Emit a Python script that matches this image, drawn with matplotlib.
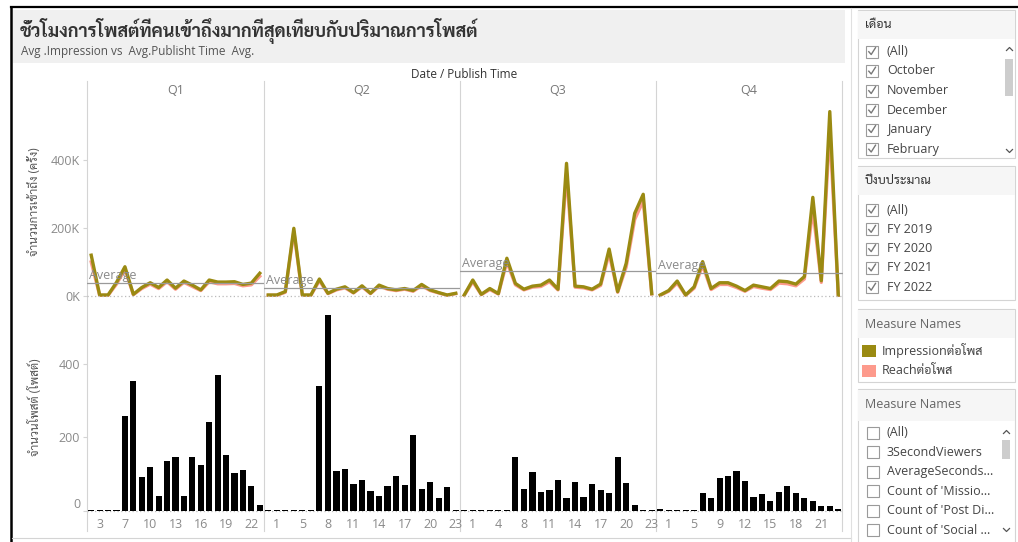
import numpy as np
import matplotlib
matplotlib.use("Agg")
import matplotlib.pyplot as plt
from matplotlib import font_manager
from matplotlib.patches import Rectangle
from matplotlib.transforms import blended_transform_factory

# ---- fonts: latin first, then a font that has Thai glyphs
available = {f.name for f in font_manager.fontManager.ttflist}
thai_font = next((f for f in ["Sarabun", "Noto Sans Thai Looped", "Noto Sans Thai", "Anuphan"]
                  if f in available), "DejaVu Sans")
plt.rcParams["font.family"] = ["Open Sans", thai_font, "DejaVu Sans"]

# ---- data (impression / reach in thousands, posts = count)
quarters = ["Q1", "Q2", "Q3", "Q4"]

q1_hours = [2, 3, 5, 6, 7, 8, 9, 10, 11, 12, 13, 14, 15, 16, 17, 18, 19, 20, 21, 22, 23]
q1_impr = [120, 3, 3, 40, 86, 5, 25, 39, 25, 47, 23, 44, 32, 18, 47, 41, 41, 42, 34, 38, 67]
q1_reach = [100, 2, 2, 35, 78, 4, 22, 35, 22, 42, 20, 40, 28, 16, 42, 36, 36, 37, 30, 33, 58]
q1_posts = [3, 1, 1, 3, 256, 352, 91, 120, 41, 136, 147, 41, 147, 123, 240, 368, 151, 103, 111, 66, 15]

q2_hours = [0, 1, 2, 3, 5, 6, 7, 8, 9, 10, 11, 12, 13, 14, 15, 16, 17, 18, 19, 20, 21, 22, 23]
q2_impr = [3, 3, 13, 199, 3, 3, 50, 8, 20, 27, 10, 30, 8, 32, 22, 18, 22, 16, 34, 18, 10, 3, 8]
q2_reach = [2, 2, 11, 190, 2, 2, 45, 7, 18, 24, 9, 27, 7, 29, 20, 16, 20, 14, 30, 16, 9, 2, 7]
q2_posts = [3, 1, 3, 1, 3, 3, 338, 532, 108, 114, 73, 84, 53, 41, 66, 95, 69, 206, 58, 77, 35, 64, 3]

q3_hours = [0, 1, 2, 3, 4, 6, 7, 8, 9, 10, 11, 12, 13, 14, 15, 16, 17, 18, 19, 20, 21, 22, 23]
q3_impr = [3, 47, 5, 22, 7, 111, 37, 20, 29, 32, 47, 20, 390, 29, 27, 20, 35, 138, 13, 96, 243, 299, 7]
q3_reach = [2, 42, 4, 19, 6, 100, 33, 18, 26, 28, 42, 18, 360, 26, 24, 18, 31, 125, 11, 85, 225, 280, 6]
q3_posts = [1, 3, 3, 3, 1, 3, 145, 59, 106, 50, 56, 84, 34, 77, 36, 72, 56, 47, 145, 75, 15, 3, 3]

q4_hours = [0, 1, 2, 3, 5, 7, 8, 9, 10, 11, 12, 13, 14, 15, 16, 17, 18, 19, 20, 21, 22, 23]
q4_impr = [3, 16, 44, 3, 27, 101, 22, 39, 39, 29, 16, 32, 27, 22, 44, 42, 35, 57, 290, 45, 542, 3]
q4_reach = [2, 14, 38, 2, 23, 90, 19, 34, 34, 25, 14, 28, 23, 19, 38, 36, 30, 50, 255, 40, 490, 2]
q4_posts = [5, 3, 3, 1, 3, 47, 34, 88, 95, 108, 81, 38, 45, 25, 52, 67, 49, 34, 25, 13, 13, 5]

hours = [q1_hours, q2_hours, q3_hours, q4_hours]
impr = [q1_impr, q2_impr, q3_impr, q4_impr]
reach = [q1_reach, q2_reach, q3_reach, q4_reach]
posts = [q1_posts, q2_posts, q3_posts, q4_posts]

months = ["(All)", "October", "November", "December", "January", "February"]
fiscal_years = ["(All)", "FY 2019", "FY 2020", "FY 2021", "FY 2022"]
measures = ["(All)", "3SecondViewers", "AverageSeconds...", "Count of 'Missio...",
            "Count of 'Post Di...", "Count of 'Social ..."]

OLIVE = "#9a8a12"
PINK = "#fd9a8c"
GRID = "#d4d4d4"
LABEL = "#8a8a8a"

W, H = 1018, 542
fig = plt.figure(figsize=(W / 100, H / 100), dpi=100)


def rect(x0, y0, x1, y1):
    return [x0 / W, 1 - y1 / H, (x1 - x0) / W, (y1 - y0) / H]


# background / decoration layer in pixel coordinates
bg = fig.add_axes([0, 0, 1, 1])
bg.set_xlim(0, W)
bg.set_ylim(H, 0)
bg.axis("off")
bg.set_zorder(-1)

# frame + title band
bg.add_patch(Rectangle((13, 10), 832, 53, color="#f0f0f0", lw=0))
bg.plot([11, W], [7, 7], color="black", lw=1.6)
bg.plot([11, 11], [7, H], color="black", lw=1.8)
bg.plot([12, 851], [538, 538], color=GRID, lw=0.8)
bg.plot([851.5, 851.5], [8, H], color="#e0e0e0", lw=0.8)

bg.text(20, 31, "ชั่วโมงการโพสต์ที่คนเข้าถึงมากที่สุดเทียบกับปริมาณการโพสต์",
        fontsize=13, fontweight="bold", color="#333333", va="center")
bg.text(21, 52, "Avg .Impression vs  Avg.Publisht Time  Avg.", fontsize=8.5,
        color="#555555", va="center")
bg.text(464, 75, "Date / Publish Time", fontsize=8.5, color="#333333",
        ha="center", va="center")

bounds = [87, 264, 460, 656, 842.5]
for x in bounds:
    bg.plot([x, x], [81, 531], color=GRID, lw=0.8)

bg.text(35, 202, "จำนวนการเข้าถึง (ครั้ง)", rotation=90, fontsize=8.5,
        color="#555555", ha="center", va="center")
bg.text(35, 407, "จำนวนโพสต์ (โพสต์)", rotation=90, fontsize=8.5,
        color="#555555", ha="center", va="center")

# ---- chart panes
for i, q in enumerate(quarters):
    x0, x1 = bounds[i], bounds[i + 1]
    n = len(hours[i])
    xs = np.arange(n)
    bg.text((x0 + x1) / 2, 91, q, fontsize=9, color="#777777", ha="center", va="center")

    ax = fig.add_axes(rect(x0, 98, x1, 312))
    ax.set_facecolor("none")
    ax.plot(xs, reach[i], color=PINK, lw=2.4, solid_joinstyle="round")
    ax.plot(xs, impr[i], color=OLIVE, lw=2.4, solid_joinstyle="round")
    ax.axhline(0, color="#bbbbbb", lw=0.9, ls=(0, (1, 2)))
    avg = np.mean(impr[i])
    ax.axhline(avg, color="#9a9a9a", lw=0.9)
    tr = blended_transform_factory(ax.transAxes, ax.transData)
    ax.text(0.012, avg + 3, "Average", transform=tr, fontsize=9, color="#8a8a8a",
            va="bottom", ha="left")
    ax.set_xlim(-0.5, n - 0.5)
    ax.set_ylim(-47, 582)
    ax.set_xticks([])
    for s in ax.spines.values():
        s.set_visible(False)
    if i == 0:
        ax.set_yticks([0, 200, 400])
        ax.set_yticklabels(["0K", "200K", "400K"])
        ax.tick_params(axis="y", length=3, color=GRID, labelcolor=LABEL,
                       labelsize=9, pad=2)
    else:
        ax.set_yticks([])

    bx = fig.add_axes(rect(x0, 312, x1, 514))
    bx.set_facecolor("none")
    bx.bar(xs, posts[i], width=0.72, color="black")
    bx.axhline(0, color="#bbbbbb", lw=0.9, ls=(0, (1, 2)), zorder=0)
    bx.set_xlim(-0.5, n - 0.5)
    bx.set_ylim(-9, 540)
    bx.set_xticks(xs[1::3])
    bx.set_xticklabels([str(h) for h in hours[i][1::3]])
    bx.tick_params(axis="x", length=0, labelcolor=LABEL, labelsize=9, pad=3)
    for s in bx.spines.values():
        s.set_visible(False)
    if i == 0:
        bx.set_yticks([0, 200, 400])
        bx.tick_params(axis="y", length=3, color=GRID, labelcolor=LABEL,
                       labelsize=9, pad=2)
        bx.get_yticklabels()[0].set_va("bottom")
    else:
        bx.set_yticks([])


# ---- right-hand side panels
def box(y0, y1, title, title_color, head_h=28):
    bg.add_patch(Rectangle((858, y0), 157.5, y1 - y0, facecolor="white",
                           edgecolor=GRID, lw=0.8))
    bg.add_patch(Rectangle((858.5, y0 + 0.5), 156.5, head_h, facecolor="#f6f6f6", lw=0))
    bg.text(865, y0 + 15, title, fontsize=9, color=title_color, va="center")


def checkbox(x, y, checked):
    bg.add_patch(Rectangle((x, y - 6), 12, 12, facecolor="white", edgecolor="#9a9a9a", lw=0.8))
    if checked:
        bg.plot([x + 2.8, x + 5.2, x + 9.5], [y + 0.2, y + 3, y - 3.8], color="#777777", lw=1)


def scrollbar(x, y_up, y_down, t0, t1):
    bg.plot([x - 3, x, x + 3], [y_up + 1.5, y_up - 1.5, y_up + 1.5], color="#555555", lw=0.9)
    bg.plot([x - 3, x, x + 3], [y_down - 1.5, y_down + 1.5, y_down - 1.5], color="#555555", lw=0.9)
    bg.add_patch(Rectangle((x - 4, t0), 8, t1 - t0, color="#cdcdcd", lw=0))


box(10, 158, "เดือน", "#333333")
for k, m in enumerate(months):
    y = 51.5 + k * 19.5
    checkbox(866, y, True)
    bg.text(887, y, m, fontsize=9, color="#444444", va="center")
scrollbar(1009.5, 49, 151, 59, 96)

box(166, 300, "ปีงบประมาณ", "#333333")
for k, m in enumerate(fiscal_years):
    y = 210 + k * 19.3
    checkbox(866, y, True)
    bg.text(887, y, m, fontsize=9, color="#444444", va="center")

box(309, 382, "Measure Names", "#666666")
bg.add_patch(Rectangle((862, 345), 14, 12, color=OLIVE, lw=0))
bg.text(882, 351, "Impressionต่อโพส", fontsize=9, color="#444444", va="center")
bg.add_patch(Rectangle((862, 365), 14, 12, color=PINK, lw=0))
bg.text(882, 371, "Reachต่อโพส", fontsize=9, color="#444444", va="center")

box(389, 545, "Measure Names", "#666666", head_h=31)
for k, m in enumerate(measures):
    y = 433 + k * 19.4
    checkbox(867, y, False)
    bg.text(887, y, m, fontsize=9, color="#444444", va="center")
scrollbar(1006.5, 432, 530, 440, 459)

fig.savefig("out.png", dpi=100)
